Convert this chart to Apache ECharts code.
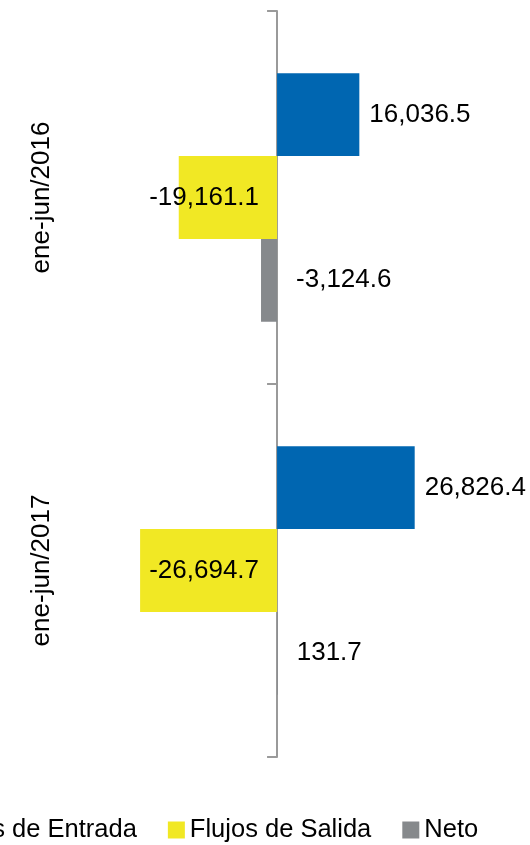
<!DOCTYPE html>
<html>
<head>
<meta charset="utf-8">
<script src="https://cdn.jsdelivr.net/npm/echarts@6/dist/echarts.min.js"></script>
<style>
html,body{margin:0;padding:0;background:#fff;}
#chart{width:530px;height:845px;}
</style>
</head>
<body>
<div id="chart"></div>
<script>
const categories = ['ene-jun/2016', 'ene-jun/2017'];
const seriesNames = ['Flujos de Entrada', 'Flujos de Salida', 'Neto'];
const entrada = [16036.5, 26826.4];
const salida = [-19161.1, -26694.7];
const neto = [-3124.6, 131.7];

const FONT = '"Liberation Sans", Arial, sans-serif';

function fmt(v) {
  const s = Math.abs(v).toFixed(1);
  const parts = s.split('.');
  const intPart = parts[0].replace(/\B(?=(\d{3})+(?!\d))/g, ',');
  return (v < 0 ? '-' : '') + intPart + '.' + parts[1];
}

const labelBase = {
  show: true,
  color: '#000',
  fontFamily: FONT,
  fontSize: 26,
  formatter: p => fmt(p.value)
};

const chart = echarts.init(document.getElementById('chart'), null, {renderer: 'canvas'});
chart.setOption({
  animation: false,
  backgroundColor: '#fff',
  grid: {left: 0, right: 0, top: 11, bottom: 88, containLabel: false, outerBoundsMode: 'none'},
  xAxis: {
    type: 'value',
    min: -54000,
    max: 49300,
    show: false,
    splitLine: {show: false}
  },
  yAxis: [
    {
      type: 'category',
      data: categories,
      inverse: true,
      axisLine: {show: true, onZero: true, lineStyle: {color: '#9a9a9a', width: 2}},
      axisTick: {show: true, length: 10, lineStyle: {color: '#9a9a9a', width: 2}},
      axisLabel: {show: false},
      splitLine: {show: false}
    },
    {
      type: 'category',
      data: categories,
      inverse: true,
      position: 'left',
      offset: -55,
      axisLine: {show: false, onZero: false},
      axisTick: {show: false},
      axisLabel: {
        rotate: 90,
        margin: 0,
        color: '#000',
        fontFamily: FONT,
        fontSize: 26,
        hideOverlap: false
      },
      splitLine: {show: false}
    }
  ],
  legend: {
    data: seriesNames,
    left: -85,
    top: 817,
    width: 640,
    padding: 0,
    itemWidth: 17,
    itemHeight: 17,
    itemGap: 31,
    icon: 'rect',
    textStyle: {color: '#000', fontFamily: FONT, fontSize: 25.5}
  },
  series: [
    {
      name: seriesNames[0],
      type: 'bar',
      data: entrada,
      barGap: '0%',
      barCategoryGap: '33.4%',
      itemStyle: {color: '#0066B1'},
      label: Object.assign({}, labelBase, {position: 'right', distance: 10})
    },
    {
      name: seriesNames[1],
      type: 'bar',
      data: salida,
      barGap: '0%',
      barCategoryGap: '33.4%',
      itemStyle: {color: '#F1E824'},
      label: Object.assign({}, labelBase, {position: 'insideRight', distance: 18})
    },
    {
      name: seriesNames[2],
      type: 'bar',
      data: neto,
      barGap: '0%',
      barCategoryGap: '33.4%',
      itemStyle: {color: '#86898C'},
      label: Object.assign({}, labelBase, {position: 'right', distance: 19})
    }
  ]
});
</script>
</body>
</html>
